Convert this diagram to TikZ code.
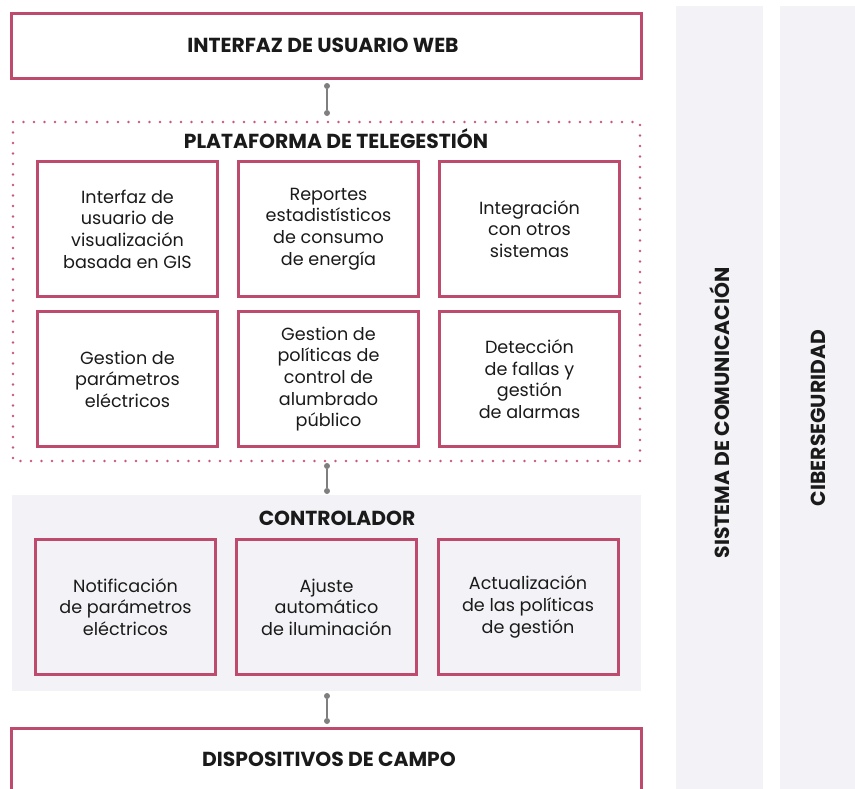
\documentclass[tikz,border=0pt]{standalone}
\usepackage{fontspec}
\setmainfont{Poppins}
\definecolor{crim}{HTML}{BE4A6E}
\definecolor{dotc}{HTML}{C8587A}
\definecolor{panel}{HTML}{F3F3F7}
\definecolor{conn}{HTML}{7F7F7F}
\definecolor{txt}{HTML}{1A1A1A}
\begin{document}
\begin{tikzpicture}[x=1pt,y=-1pt,
  framebox/.style={draw=crim,line width=3pt,fill=white,inner sep=0pt},
  itembox/.style={draw=crim,line width=3pt,minimum width=180pt,minimum height=135pt,align=center,inner sep=0pt,text=txt,font=\fontsize{17.6}{21.6}\selectfont},
  title/.style={font=\fontsize{20.3}{24}\selectfont\bfseries,text=txt},
  linkline/.style={draw=conn,line width=1.8pt},
  linkdot/.style={circle,fill=conn,inner sep=0pt,minimum size=6pt}]
\useasboundingbox (0,0) rectangle (855,788);
\begin{scope}
\clip (0,0) rectangle (855,788);
% side columns
\fill[panel] (676,6) rectangle (763,800);
\fill[panel] (780,6) rectangle (860,800);
\node[title,rotate=90] (sis) at (719.5,413) {SISTEMA DE COMUNICACIÓN};
\node[title,rotate=90] (cib) at (818,418) {CIBERSEGURIDAD};
% web
\node[framebox,minimum width=630pt,minimum height=65pt] (web) at (326,45.5) {};
\node[title] (webt) at (323,45.5) {INTERFAZ DE USUARIO WEB};
% platform
\draw[dotc,line width=2.8pt,line cap=round,dash pattern=on 0pt off 10.5pt] (13,122) rectangle (640,461);
\node[title] (plat) at (336,139) {PLATAFORMA DE TELEGESTIÓN};
\node[itembox] (p1) at (127.5,229) {Interfaz de\\usuario de\\visualización\\basada en GIS};
\node[itembox] (p2) at (328.5,229) {Reportes\\estadistísticos\\de consumo\\de energía};
\node[itembox] (p3) at (529.5,229) {Integración\\con otros\\sistemas};
\node[itembox] (p4) at (127.5,379) {Gestion de\\parámetros\\eléctricos};
\node[itembox] (p5) at (328.5,379) {Gestion de\\políticas de\\control de\\alumbrado\\público};
\node[itembox] (p6) at (529.5,379) {Detección\\de fallas y\\gestión\\de alarmas};
% controller
\fill[panel] (12,495) rectangle (641,691);
\node[title] (ctrl) at (337,518) {CONTROLADOR};
\node[itembox] (c1) at (125.5,607) {Notificación\\de parámetros\\eléctricos};
\node[itembox] (c2) at (326.5,607) {Ajuste\\automático\\de iluminación};
\node[itembox] (c3) at (528,607) {Actualización\\de las políticas\\de gestión};
% field devices
\draw[crim,line width=3pt,fill=white] (11,800) -- (11,728) -- (641,728) -- (641,800);
\node[title] (dev) at (329,759) {DISPOSITIVOS DE CAMPO};
% connectors
\node[linkdot] (d1a) at (327,86) {};
\node[linkdot] (d1b) at (327,113) {};
\draw[linkline] (d1a) -- (d1b);
\node[linkdot] (d2a) at (327,466) {};
\node[linkdot] (d2b) at (327,491) {};
\draw[linkline] (d2a) -- (d2b);
\node[linkdot] (d3a) at (327,696) {};
\node[linkdot] (d3b) at (327,721) {};
\draw[linkline] (d3a) -- (d3b);
\end{scope}
\end{tikzpicture}
\end{document}
